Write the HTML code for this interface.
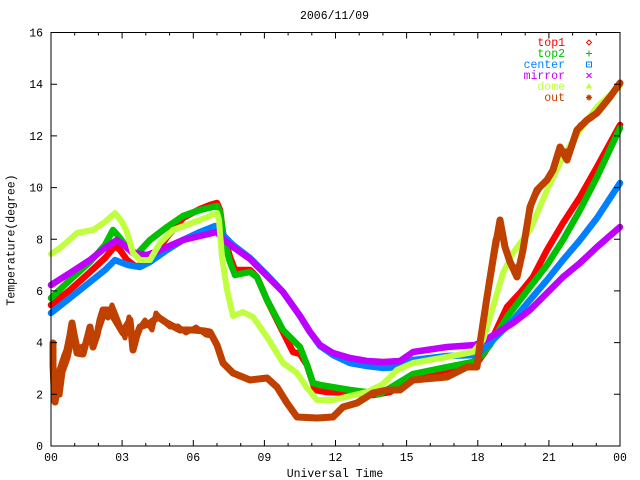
<!DOCTYPE html>
<html><head><meta charset="utf-8"><style>
html,body{margin:0;padding:0;background:#fff;}
svg{display:block;}
text{font-family:"Liberation Mono",monospace;font-size:11.5px;fill:#000;}
</style></head><body>
<svg width="640" height="480" viewBox="0 0 640 480" xmlns="http://www.w3.org/2000/svg">
<rect width="640" height="480" fill="#fff"/>
<g fill="none" stroke-linejoin="round" stroke-linecap="round" stroke-width="6.5">
<polyline stroke="#ff0000" points="51,305 70,290 90,272 105,258 115,246 120,250 127,260 135,266 142,266 153,257 167,237 183,218 200,209 210,205 217,203 220,210 223,233 230,257 235,270 250,270 257,277 267,300 277,320 287,340 293,352 300,354 307,365 315,390 327,392 350,393 373,395 390,392 413,377 447,370 477,363 485,352 493,337 507,307 520,293 533,277 547,250 563,223 580,197 597,167 620,125"/>
<polyline stroke="#00c000" points="51,298 70,280 90,262 105,245 113,230 120,238 127,248 137,254 150,240 167,227 183,216 200,210 217,206 220,212 224,240 230,262 235,275 250,272 257,277 267,300 283,330 300,347 307,365 313,383 320,385 350,390 373,393 380,394 413,374 447,367 473,362 482,355 490,345 507,317 530,287 547,265 563,240 580,210 597,177 620,128"/>
<polyline stroke="#0080ff" points="51,313 70,298 90,282 105,270 115,260 120,262 128,265 140,267 150,262 167,250 183,240 200,232 215,226 220,232 233,245 250,258 267,275 283,292 300,316 310,332 320,346 333,355 350,363 367,366 383,368 400,367 413,360 447,356 477,355 490,343 513,320 530,300 547,280 563,260 580,240 597,218 620,183"/>
<polyline stroke="#c000ff" points="51,285 70,273 90,260 105,248 117,240 125,246 133,253 147,255 160,250 167,247 183,240 200,236 217,232 222,238 233,247 250,259 267,276 283,292 300,316 310,332 320,345 333,353 350,358 367,361 383,362 400,361 413,352 447,347 475,345 485,340 497,333 513,323 530,310 547,293 563,277 580,263 597,247 620,227"/>
<polyline stroke="#c0ff40" stroke-width="6" points="51,254 60,248 67,242 77,233 93,230 105,222 115,213 122,222 127,232 133,253 140,260 150,260 160,243 173,230 200,220 217,213 219,220 222,257 227,290 233,316 243,312 253,317 267,337 283,363 297,373 307,388 317,400 333,400 350,396 367,392 383,384 397,370 413,363 447,357 473,352 483,340 493,307 503,273 513,253 530,230 547,190 563,157 580,130 597,107 620,86"/>
<polyline stroke="#c04000" stroke-width="7" points="53,343 53,365 54,388 55,402 58,385 60,370 65,355 67,350 70,335 72,323 75,340 77,353 83,354 88,335 90,327 93,347 97,335 100,320 103,310 110,310 114,318 117,323 123,333 127,325 130,320 133,350 137,335 140,327 150,323 158,317 167,323 180,330 193,330 205,331 210,332 217,345 223,363 233,373 250,380 267,378 277,387 287,403 297,417 317,418 333,417 343,407 357,403 373,393 387,390 400,390 413,380 447,377 467,367 477,367 480,343 487,297 493,260 500,220 505,247 510,262 517,277 523,250 530,207 537,190 547,180 553,170 560,147 567,160 577,130 587,120 597,113 610,97 620,83"/>
<polyline stroke="#c04000" stroke-width="5" points="56,380 60,395 63,372 68,358 72,340 74,330 78,348 85,345 89,340 92,333 96,340 99,330 104,315 108,318 112,305 116,315 120,325 125,338 129,317 134,342 138,330 145,320 152,330 156,313 162,320 170,327 178,326 186,333 196,327 206,335 212,336"/>
<polyline stroke="#c04000" stroke-width="5" points="482,330 488,285 495,240 499,228 503,240 508,255 514,268 520,265 526,230 533,200 542,185 550,176 557,155 563,152 570,150 580,125 592,118 603,105 615,90"/>
</g>
<rect x="51" y="32.5" width="569" height="413.5" fill="none" stroke="#000" stroke-width="1"/>
<g stroke="#000" stroke-width="1">
<path d="M51,446v-6M122.1,446v-6M193.3,446v-6M264.4,446v-6M335.5,446v-6M406.6,446v-6M477.8,446v-6M548.9,446v-6M620,446v-6
M51,32.5v6M122.1,32.5v6M193.3,32.5v6M264.4,32.5v6M335.5,32.5v6M406.6,32.5v6M477.8,32.5v6M548.9,32.5v6M620,32.5v6"/>
<path d="M74.7,446v-3M98.4,446v-3M145.8,446v-3M169.6,446v-3M217,446v-3M240.7,446v-3M288.1,446v-3M311.8,446v-3M359.2,446v-3M382.9,446v-3M430.3,446v-3M454,446v-3M501.5,446v-3M525.2,446v-3M572.6,446v-3M596.3,446v-3
M74.7,32.5v3M98.4,32.5v3M145.8,32.5v3M169.6,32.5v3M217,32.5v3M240.7,32.5v3M288.1,32.5v3M311.8,32.5v3M359.2,32.5v3M382.9,32.5v3M430.3,32.5v3M454,32.5v3M501.5,32.5v3M525.2,32.5v3M572.6,32.5v3M596.3,32.5v3"/>
<path d="M51,394.3h6M51,342.6h6M51,290.9h6M51,239.3h6M51,187.6h6M51,135.9h6M51,84.2h6
M620,394.3h-6M620,342.6h-6M620,290.9h-6M620,239.3h-6M620,187.6h-6M620,135.9h-6M620,84.2h-6"/>
</g>
<text x="334.5" y="19" text-anchor="middle">2006/11/09</text>
<g text-anchor="end">
<text x="43" y="450">0</text>
<text x="43" y="398.3">2</text>
<text x="43" y="346.6">4</text>
<text x="43" y="294.9">6</text>
<text x="43" y="243.3">8</text>
<text x="43" y="191.6">10</text>
<text x="43" y="139.9">12</text>
<text x="43" y="88.2">14</text>
<text x="43" y="36.5">16</text>
</g>
<g text-anchor="middle">
<text x="51" y="461">00</text>
<text x="122.1" y="461">03</text>
<text x="193.3" y="461">06</text>
<text x="264.4" y="461">09</text>
<text x="335.5" y="461">12</text>
<text x="406.6" y="461">15</text>
<text x="477.8" y="461">18</text>
<text x="548.9" y="461">21</text>
<text x="620" y="461">00</text>
<text x="335" y="477">Universal Time</text>
<text transform="translate(14.5,240) rotate(-90)">Temperature(degree)</text>
</g>
<g text-anchor="end">
<text x="565" y="46" style="fill:#ff0000">top1</text>
<text x="565" y="57" style="fill:#00c000">top2</text>
<text x="565" y="68" style="fill:#0080ff">center</text>
<text x="565" y="79" style="fill:#c000ff">mirror</text>
<text x="565" y="90" style="fill:#c0ff40">dome</text>
<text x="565" y="101" style="fill:#c04000">out</text>
</g>
<g fill="none" stroke-width="1">
<path d="M589,40l2.5,2.5l-2.5,2.5l-2.5,-2.5z" stroke="#ff0000"/>
<path d="M586,53.5h6M589,50.5v6" stroke="#00c000"/>
<rect x="586.5" y="62" width="5" height="5" stroke="#0080ff"/>
<circle cx="589" cy="64.5" r="0.6" fill="#0080ff" stroke="none"/>
<path d="M586.5,73l5,5M591.5,73l-5,5" stroke="#c000ff"/>
<path d="M589,84l2.5,4h-5z" fill="#c0ff40" stroke="#c0ff40"/>
<path d="M586,97.5h6M589,94.5v6M587,95.5l4,4M591,95.5l-4,4" stroke="#c04000" stroke-width="1.3"/>
</g>
</svg>
</body></html>
